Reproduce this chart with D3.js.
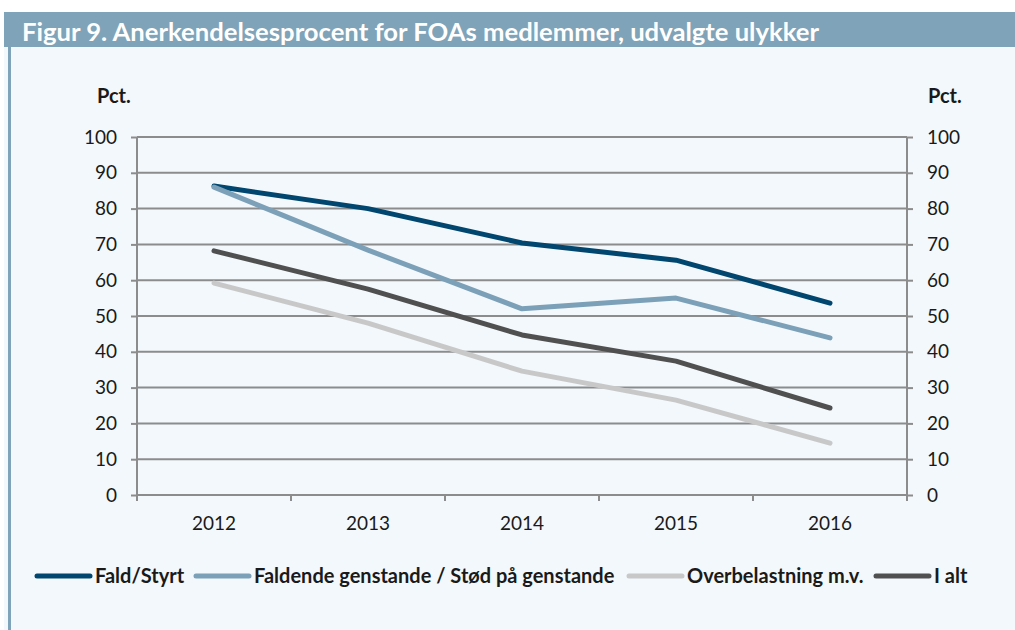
<!DOCTYPE html>
<html>
<head>
<meta charset="utf-8">
<script src="https://cdn.jsdelivr.net/npm/d3@7"></script>
<style>
  body { margin: 0; background: #fff; }
  svg { display: block; }
</style>
</head>
<body>
<svg id="chart" width="1015" height="630"></svg>
<script>
/* data */
var years = ["2012", "2013", "2014", "2015", "2016"]
var yTicks = [0, 10, 20, 30, 40, 50, 60, 70, 80, 90, 100]
var seriesNames = ["Fald/Styrt", "Faldende genstande / Stød på genstande", "Overbelastning m.v.", "I alt"]
var faldStyrt = [86.3, 80, 70.4, 65.6, 53.6]
var faldendeGenstande = [86, 68.4, 52, 55, 43.9]
var overbelastning = [59.2, 48, 34.6, 26.5, 14.5]
var iAlt = [68.2, 57.5, 44.7, 37.4, 24.3]
var seriesColors = ["#00466e", "#7ba0b8", "#c8c8c8", "#505050"]

var series = [faldStyrt, faldendeGenstande, overbelastning, iAlt]

var svg = d3.select("#chart")
var font = "Lato, 'Open Sans', sans-serif"

/* panel + title bar */
svg.append("rect").attr("x", 4).attr("y", 47).attr("width", 1011).attr("height", 583).attr("fill", "#f3f8fc")
svg.append("rect").attr("x", 4).attr("y", 12).attr("width", 1011).attr("height", 35).attr("fill", "#7fa3b8")
svg.append("rect").attr("x", 8).attr("y", 47).attr("width", 3).attr("height", 583).attr("fill", "#7fa3b8")
svg.append("text")
    .attr("x", 22).attr("y", 41)
    .attr("fill", "#fff")
    .attr("font-family", font)
    .attr("font-weight", "bold")
    .attr("font-size", 24)
    .attr("textLength", 797)
    .attr("lengthAdjust", "spacingAndGlyphs")
    .text("Figur 9. Anerkendelsesprocent for FOAs medlemmer, udvalgte ulykker")

/* scales */
var plotLeft = 137, plotRight = 907, plotTop = 137, plotBottom = 495
var x = d3.scaleBand().domain(years).range([plotLeft, plotRight])
var y = d3.scaleLinear().domain([0, 100]).range([plotBottom, plotTop])

/* grid */
svg.append("g").selectAll("line")
    .data(yTicks.filter(function(d) { return d > 0 }))
    .enter().append("line")
    .attr("x1", plotLeft).attr("x2", plotRight)
    .attr("y1", function(d) { return y(d) }).attr("y2", function(d) { return y(d) })
    .attr("stroke", "#8c8c8c").attr("stroke-width", 2)

/* axes */
var axisLeft = svg.append("g").attr("transform", "translate(" + plotLeft + ",0)")
    .call(d3.axisLeft(y).tickValues(yTicks).tickSize(6).tickPadding(14))
var axisRight = svg.append("g").attr("transform", "translate(" + plotRight + ",0)")
    .call(d3.axisRight(y).tickValues(yTicks).tickSize(6).tickPadding(14))
var axisBottom = svg.append("g").attr("transform", "translate(0," + plotBottom + ")")
    .call(d3.axisBottom(x).tickSize(0).tickPadding(22))

// band boundary ticks on the x axis
svg.append("g").selectAll("line")
    .data(years.concat(["end"]))
    .enter().append("line")
    .attr("x1", function(d, i) { return plotLeft + i * x.bandwidth() })
    .attr("x2", function(d, i) { return plotLeft + i * x.bandwidth() })
    .attr("y1", plotBottom).attr("y2", plotBottom + 6)
    .attr("stroke", "#8c8c8c").attr("stroke-width", 2)

;[axisLeft, axisRight, axisBottom].forEach(function(a) {
    a.select(".domain").attr("stroke", "#8c8c8c").attr("stroke-width", 2)
    a.selectAll(".tick line").attr("stroke", "#8c8c8c").attr("stroke-width", 2)
    a.selectAll("text")
        .attr("fill", "#1a1a1a")
        .attr("font-family", font)
        .attr("font-size", 19)
})
axisLeft.select(".domain").attr("d", "M0," + plotTop + "V" + plotBottom)
axisRight.select(".domain").attr("d", "M0," + plotTop + "V" + plotBottom)
axisBottom.select(".domain").attr("d", "M" + plotLeft + ",0H" + plotRight)

/* unit labels */
svg.append("text").attr("x", 97).attr("y", 103)
    .attr("font-family", font).attr("font-weight", "bold").attr("font-size", 20).attr("fill", "#1a1a1a")
    .text("Pct.")
svg.append("text").attr("x", 928).attr("y", 103)
    .attr("font-family", font).attr("font-weight", "bold").attr("font-size", 20).attr("fill", "#1a1a1a")
    .text("Pct.")

/* lines */
var line = d3.line()
    .x(function(d, i) { return x(years[i]) + x.bandwidth() / 2 })
    .y(function(d) { return y(d) })

svg.append("g").selectAll("path")
    .data(series)
    .enter().append("path")
    .attr("d", line)
    .attr("fill", "none")
    .attr("stroke", function(d, i) { return seriesColors[i] })
    .attr("stroke-width", 5)
    .attr("stroke-linecap", "round")
    .attr("stroke-linejoin", "round")

/* legend */
var legendX = [37, 196, 629, 876]
var legend = svg.append("g").selectAll("g")
    .data(seriesNames)
    .enter().append("g")
    .attr("transform", function(d, i) { return "translate(" + legendX[i] + ",576)" })
legend.append("line")
    .attr("x1", 0).attr("x2", 53)
    .attr("stroke", function(d, i) { return seriesColors[i] })
    .attr("stroke-width", 5)
    .attr("stroke-linecap", "round")
legend.append("text")
    .attr("x", 58).attr("y", 7)
    .attr("font-family", font).attr("font-weight", "bold").attr("font-size", 20).attr("fill", "#1a1a1a")
    .text(function(d) { return d })
</script>
</body>
</html>
